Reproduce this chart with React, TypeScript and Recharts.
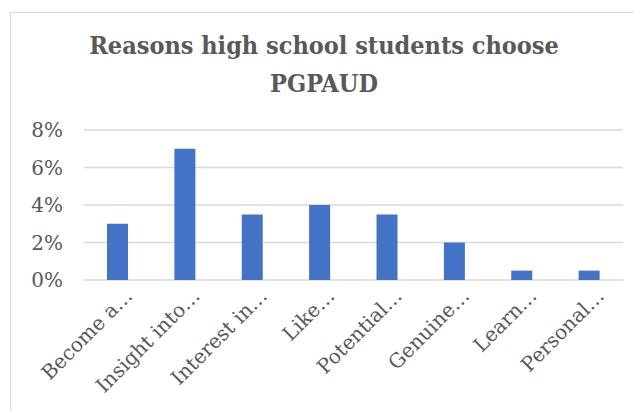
import { BarChart, Bar, XAxis, YAxis, CartesianGrid } from 'recharts'

const categories = [
  'Become a…',
  'Insight into…',
  'Interest in…',
  'Like…',
  'Potential…',
  'Genuine…',
  'Learn…',
  'Personal…',
]
const shares = [0.03, 0.07, 0.035, 0.04, 0.035, 0.02, 0.005, 0.005]
const yTicks = [0, 0.02, 0.04, 0.06, 0.08]

const data = categories.map((name, i) => ({ name, value: shares[i] }))

const FONT = "'DejaVu Serif', serif"
const TITLE_FONT = "'DejaVu Serif Condensed', 'DejaVu Serif', serif"
const TEXT = '#595959'

function SlantTick(props: any) {
  const { x, y, payload } = props
  const ax = x + 16
  const ay = y + 17
  return (
    <text
      x={ax}
      y={ay}
      textAnchor="end"
      fill={TEXT}
      fontSize={20}
      fontFamily={FONT}
      transform={`rotate(-45, ${ax}, ${ay})`}
    >
      {payload.value}
    </text>
  )
}

export default function App() {
  return (
    <div
      style={{
        position: 'absolute',
        left: 10,
        top: 12,
        width: 624,
        height: 399,
        boxSizing: 'border-box',
        borderLeft: '1px solid #d9d9d9',
        borderTop: '1px solid #d9d9d9',
        background: '#fff',
      }}
    >
      <div
        style={{
          position: 'absolute',
          left: 3,
          top: 14,
          width: 620,
          textAlign: 'center',
          fontFamily: TITLE_FONT,
          fontWeight: 'bold',
          fontSize: 25,
          lineHeight: '38px',
          color: TEXT,
        }}
      >
        Reasons high school students choose
        <br />
        PGPAUD
      </div>
      <BarChart
        width={623}
        height={398}
        data={data}
        margin={{ top: 117, right: 11, bottom: 0, left: 0 }}
      >
        <CartesianGrid vertical={false} stroke="#d9d9d9" strokeWidth={1.5} />
        <XAxis
          dataKey="name"
          height={131}
          interval={0}
          axisLine={false}
          tickLine={false}
          tickSize={0}
          tickMargin={0}
          tick={<SlantTick />}
        />
        <YAxis
          width={73}
          domain={[0, 0.08]}
          ticks={yTicks}
          axisLine={false}
          tickLine={false}
          tickSize={0}
          tickMargin={21}
          tickFormatter={(v: number) => `${Math.round(v * 100)}%`}
          tick={{ fill: TEXT, fontSize: 20, fontFamily: FONT }}
        />
        <Bar dataKey="value" fill="#4472c4" barSize={21} isAnimationActive={false} />
      </BarChart>
    </div>
  )
}
